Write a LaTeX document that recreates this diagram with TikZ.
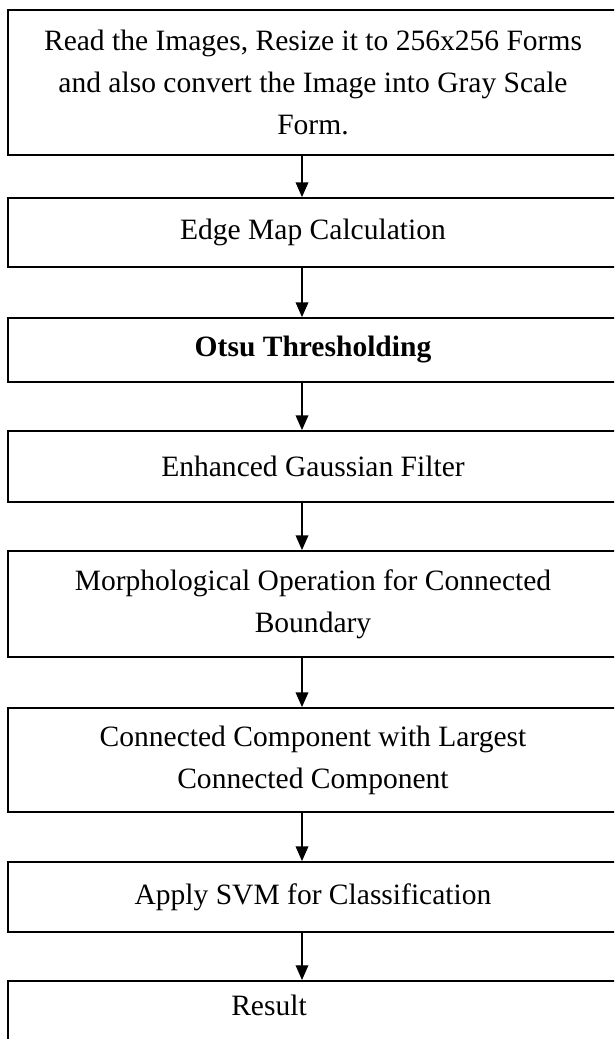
\documentclass[tikz,border=0pt]{standalone}
\usepackage{fontspec}
\setmainfont{Liberation Serif}
\usetikzlibrary{arrows.meta}

\begin{document}
\begin{tikzpicture}[
		box/.style={rectangle, draw, line width=1.3pt, minimum width=15.25cm, align=center, font=\fontsize{21}{30}\selectfont},
		flow/.style={-{Triangle[length=10.5pt, width=9pt]}, line width=1pt}
	]
  \path[use as bounding box, clip] (0cm, 0cm) rectangle (15.35cm, -25.975cm);
  \coordinate (axis) at (7.55cm, 0cm);
  \node (read) [box, minimum height=3.625cm] at (7.825cm, -2.0625cm) {Read the Images, Resize it to 256x256 Forms\\and also convert the Image into Gray Scale\\Form.};
  \node (edge) [box, minimum height=1.725cm] at (7.825cm, -5.8125cm) {Edge Map Calculation};
  \node (otsu) [box, minimum height=1.6cm, font=\fontsize{21}{30}\selectfont\bfseries] at (7.825cm, -8.75cm) {Otsu Thresholding};
  \node (gauss) [box, minimum height=1.775cm] at (7.825cm, -11.6625cm) {Enhanced Gaussian Filter};
  \node (morph) [box, minimum height=2.65cm] at (7.825cm, -15.1cm) {Morphological Operation for Connected\\Boundary};
  \node (comp) [box, minimum height=2.6cm] at (7.825cm, -19.0cm) {Connected Component with Largest\\Connected Component};
  \node (svm) [box, minimum height=1.75cm] at (7.825cm, -22.425cm) {Apply SVM for Classification};
  \node (result) [box, minimum height=2cm, anchor=north] at (7.825cm, -24.5cm) {};
  \node (result_label) [font=\fontsize{21}{30}\selectfont] at (6.725cm, -25.125cm) {Result};
  \draw [flow] (read.south -| axis) -- (edge.north -| axis);
  \draw [flow] (edge.south -| axis) -- (otsu.north -| axis);
  \draw [flow] (otsu.south -| axis) -- (gauss.north -| axis);
  \draw [flow] (gauss.south -| axis) -- (morph.north -| axis);
  \draw [flow] (morph.south -| axis) -- (comp.north -| axis);
  \draw [flow] (comp.south -| axis) -- (svm.north -| axis);
  \draw [flow] (svm.south -| axis) -- (result.north -| axis);
\end{tikzpicture}
\end{document}
